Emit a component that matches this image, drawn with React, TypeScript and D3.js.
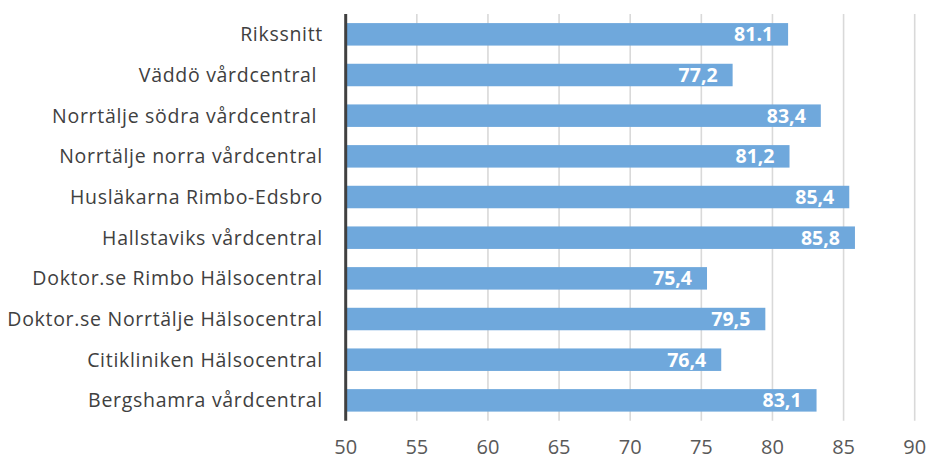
import React from "react";
import * as d3 from "d3";

const categories = [
  "Rikssnitt",
  "Väddö vårdcentral ",
  "Norrtälje södra vårdcentral ",
  "Norrtälje norra vårdcentral",
  "Husläkarna Rimbo-Edsbro",
  "Hallstaviks vårdcentral",
  "Doktor.se Rimbo Hälsocentral",
  "Doktor.se Norrtälje Hälsocentral",
  "Citikliniken Hälsocentral",
  "Bergshamra vårdcentral",
];
const values = [81.1, 77.2, 83.4, 81.2, 85.4, 85.8, 75.4, 79.5, 76.4, 83.1];
const valueLabels = ["81.1", "77,2", "83,4", "81,2", "85,4", "85,8", "75,4", "79,5", "76,4", "83,1"];
const ticks = [50, 55, 60, 65, 70, 75, 80, 85, 90];

const W = 928;
const H = 459;
const left = 345.7;
const right = 914.7;
const top = 14;
const bottom = 420.7;
const font = "'Open Sans', sans-serif";

export default function App() {
  const x = d3.scaleLinear().domain([50, 90]).range([left, right]);
  const y = d3
    .scaleBand<string>()
    .domain(categories)
    .range([top, bottom])
    .paddingInner(0.447)
    .paddingOuter(0.2235);

  return (
    <svg
      width={W}
      height={H}
      style={{ position: "absolute", left: 0, top: 0, display: "block", background: "#fff" }}
    >
      {ticks.slice(1).map((t) => (
        <line key={t} x1={x(t)} x2={x(t)} y1={top} y2={bottom} stroke="#d9d9d9" strokeWidth={1.6} />
      ))}
      {categories.map((c, i) => {
        const y0 = y(c)!;
        const bw = y.bandwidth();
        return (
          <g key={c}>
            <rect x={x(50)} y={y0} width={x(values[i]) - x(50)} height={bw} fill="#6fa8dc" />
            <text
              x={x(values[i]) - 15}
              y={y0 + bw / 2}
              dy="0.36em"
              textAnchor="end"
              fill="#fff"
              fontWeight="bold"
              fontSize={19.5}
              fontFamily={font}
            >
              {valueLabels[i]}
            </text>
            <text
              x={323}
              y={y0 + bw / 2}
              dy="0.36em"
              textAnchor="end"
              fill="#404040"
              fontSize={19.5}
              letterSpacing={0.7}
              fontFamily={font}
              style={{ whiteSpace: "pre" }}
            >
              {c}
            </text>
          </g>
        );
      })}
      <line x1={left} x2={left} y1={top} y2={bottom} stroke="#404040" strokeWidth={3} />
      {ticks.map((t) => (
        <text
          key={t}
          x={x(t)}
          y={447}
          dy="0.36em"
          textAnchor="middle"
          fill="#595959"
          fontSize={20}
          fontFamily={font}
        >
          {t}
        </text>
      ))}
    </svg>
  );
}
